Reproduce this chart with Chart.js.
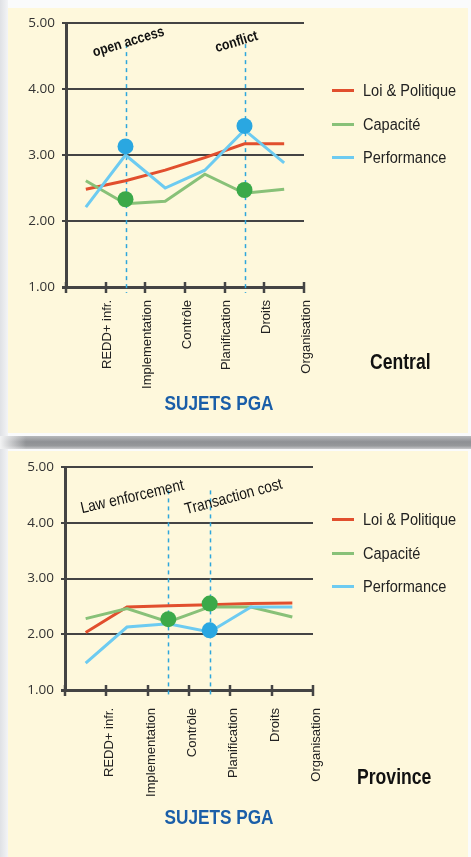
<!DOCTYPE html>
<html>
<head>
<meta charset="utf-8">
<script src="https://cdn.jsdelivr.net/npm/chart.js@4"></script>
<style>
  body { margin: 0; width: 471px; height: 857px; background: #fafbfc; position: relative; overflow: hidden; }
  .strip { position: absolute; left: 0; top: 0; width: 8px; height: 857px; background: linear-gradient(to right, #dfe1e5, #f3f4f6); }
  .panel { position: absolute; left: 8px; width: 460px; background: #fef8dc; }
  .shadow { position: absolute; left: 0; top: 436px; width: 471px; height: 13px;
    background: linear-gradient(to right, #f2f3f4 0, rgba(242,243,244,0) 26px),
                linear-gradient(to bottom, #b7b9bc, #8e9094 45%, #96989b 75%, #c8c9cb); }
  canvas { position: absolute; left: 0; }
  .legend-item { position: absolute; left: 332px; height: 20px; font: 16px "Liberation Sans", Arial, sans-serif; color: #222; }
  .legend-item i { position: absolute; left: 0; top: 8px; width: 22px; height: 3px; }
  .legend-item span { position: absolute; left: 31px; top: 0; line-height: 20px; white-space: nowrap;
    transform: scaleX(0.91); transform-origin: left center; }
  .level { position: absolute; font: bold 22px "Liberation Sans", Arial, sans-serif; color: #111; line-height: 24px;
    transform: scaleX(0.8); transform-origin: left center; }
  .axis-title { position: absolute; width: 140px; text-align: center; font: bold 20px "Liberation Sans", Arial, sans-serif;
    color: #1a5ea8; line-height: 22px; transform: scaleX(0.86); }
</style>
</head>
<body>
<div class="strip"></div>
<div class="panel" style="top:8px;height:425px"></div>
<div class="panel" style="top:451px;height:406px"></div>
<div class="shadow"></div>
<canvas id="central" width="471" height="440" style="top:0"></canvas>
<canvas id="province" width="471" height="417" style="top:440px"></canvas>
<div class="axis-title" style="left:149px;top:392px">SUJETS PGA</div>
<div class="axis-title" style="left:149px;top:806px">SUJETS PGA</div>
<div class="level" style="left:370px;top:350px">Central</div>
<div class="level" style="left:357px;top:765px">Province</div>
<script>
const categories = ["REDD+ infr.", "Implementation", "Contrôle", "Planification", "Droits", "Organisation"];
const yTicks = [1, 2, 3, 4, 5];
const seriesNames = ["Loi & Politique", "Capacité", "Performance"];
const seriesColors = ["#e14f2e", "#88c178", "#6dcbf1"];
const dotColors = { green: "#3ba949", blue: "#2aa7e1" };

// Central
const centralLoi = [2.48, 2.61, 2.77, 2.96, 3.17, 3.17];
const centralCapacite = [2.61, 2.26, 2.30, 2.71, 2.42, 2.48];
const centralPerformance = [2.21, 3.00, 2.50, 2.77, 3.38, 2.88];
const centralDotsGreen = [null, 2.33, null, null, 2.47, null];
const centralDotsBlue = [null, 3.13, null, null, 3.44, null];
const centralMarkIdx = [1, 4];
const centralMarkText = ["open access", "conflict"];

// Province
const provinceLoi = [2.03, 2.49, 2.51, 2.53, 2.55, 2.56];
const provinceCapacite = [2.28, 2.46, 2.22, 2.49, 2.49, 2.31];
const provincePerformance = [1.48, 2.13, 2.19, 2.04, 2.49, 2.49];
const provinceDotsGreen = [null, null, 2.27, 2.55, null, null];
const provinceDotsBlue = [null, null, null, 2.07, null, null];
const provinceMarkIdx = [2, 3];
const provinceMarkText = ["Law enforcement", "Transaction cost"];

const sans = '"Liberation Sans", Arial, sans-serif';

// dashed guide lines, axis tick crosses, slanted notes
const panelMarks = {
  id: "panelMarks",
  beforeDatasetsDraw(chart, args, opts) {
    const { ctx, chartArea, scales: { x, y } } = chart;
    ctx.save();
    ctx.strokeStyle = "#444";
    ctx.lineWidth = 2.5;
    for (let i = 0; i <= categories.length; i++) {
      const px = Math.round(x.getPixelForValue(i - 0.5));
      ctx.beginPath();
      ctx.moveTo(px, chartArea.bottom - 5);
      ctx.lineTo(px, chartArea.bottom + 6);
      ctx.stroke();
    }
    ctx.setLineDash([4, 4]);
    ctx.strokeStyle = "#2ea6dc";
    ctx.lineWidth = 1.5;
    opts.idx.forEach((i) => {
      const px = Math.round(x.getPixelForValue(i)) + 0.5;
      ctx.beginPath();
      ctx.moveTo(px, y.getPixelForValue(opts.lineTop));
      ctx.lineTo(px, chartArea.bottom + 6);
      ctx.stroke();
    });
    ctx.restore();
  },
  afterDatasetsDraw(chart, args, opts) {
    const { ctx, scales: { x, y } } = chart;
    ctx.save();
    ctx.fillStyle = "#111";
    ctx.font = opts.font;
    ctx.textAlign = "center";
    ctx.textBaseline = "middle";
    opts.idx.forEach((i, k) => {
      ctx.save();
      ctx.translate(x.getPixelForValue(i) + opts.dx[k], y.getPixelForValue(opts.textAt));
      ctx.rotate(opts.angle[k] * Math.PI / 180);
      ctx.scale(opts.squeeze, 1);
      ctx.fillText(opts.text[k], 0, 0);
      ctx.restore();
    });
    ctx.restore();
  }
};

function lineSet(label, data, color, order) {
  return { label, data, borderColor: color, backgroundColor: color, borderWidth: 3,
    pointRadius: 0, tension: 0, order };
}

function dotSet(data, color) {
  return { label: "", data, showLine: false, pointRadius: 8, pointHoverRadius: 8,
    pointBackgroundColor: color, pointBorderWidth: 0, order: 0 };
}

function makeChart(id, series, dots, cfg) {
  return new Chart(document.getElementById(id), {
    type: "line",
    data: {
      labels: categories,
      datasets: [
        dotSet(dots[1], dotColors.blue),
        dotSet(dots[0], dotColors.green),
        lineSet(seriesNames[0], series[0], seriesColors[0], 3),
        lineSet(seriesNames[1], series[1], seriesColors[1], 2),
        lineSet(seriesNames[2], series[2], seriesColors[2], 1),
      ],
    },
    options: {
      responsive: false,
      animation: false,
      events: [],
      layout: { padding: cfg.padding },
      plugins: { legend: { display: false }, tooltip: { enabled: false }, panelMarks: cfg.marks },
      scales: {
        x: {
          type: "category",
          offset: true,
          grid: { display: false, drawTicks: false },
          border: { display: false },
          ticks: { autoSkip: false, minRotation: 90, maxRotation: 90, labelOffset: cfg.labelOffset,
            padding: cfg.labelPad, color: "#222", font: { family: sans, size: 13 } },
          afterFit: (scale) => { scale.height = 120; },
        },
        y: {
          min: yTicks[0],
          max: yTicks[yTicks.length - 1],
          afterBuildTicks: (scale) => { scale.ticks = yTicks.map((v) => ({ value: v })); },
          grid: { color: "#444", lineWidth: (c) => (c.tick && c.tick.value === 1 ? 3 : 2), tickLength: 4 },
          border: { display: true, color: "#444", width: 3 },
          ticks: { padding: 7, color: "#333", font: { family: "Open Sans", size: 13.5 },
            callback: (v) => Number(v).toFixed(2) },
          afterFit: (scale) => { scale.width = cfg.yWidth; },
        },
      },
    },
    plugins: [panelMarks],
  });
}

makeChart("central",
  [centralLoi, centralCapacite, centralPerformance],
  [centralDotsGreen, centralDotsBlue],
  { padding: { left: 0, right: 167, top: 23, bottom: 33 }, yWidth: 66, labelOffset: 22, labelPad: 13,
    marks: { idx: centralMarkIdx, text: centralMarkText, lineTop: 4.68, textAt: 4.71,
      dx: [3, -8], angle: [-17, -17], squeeze: 0.85, font: "bold 14.5px " + sans } });

makeChart("province",
  [provinceLoi, provinceCapacite, provincePerformance],
  [provinceDotsGreen, provinceDotsBlue],
  { padding: { left: 0, right: 158, top: 27, bottom: 47 }, yWidth: 65, labelOffset: 24, labelPad: 18,
    marks: { idx: provinceMarkIdx, text: provinceMarkText, lineTop: 4.58, textAt: 4.46,
      dx: [-36, 24], angle: [-13, -15], squeeze: 0.86, font: "16px " + sans } });

// legends built from the series lists
[91, 520].forEach((top) => {
  seriesNames.forEach((name, k) => {
    const item = document.createElement("div");
    item.className = "legend-item";
    item.style.top = (top - 10 + k * 33.5) + "px";
    item.innerHTML = `<i style="background:${seriesColors[k]}"></i><span>${name}</span>`;
    document.body.appendChild(item);
  });
});
</script>
</body>
</html>
